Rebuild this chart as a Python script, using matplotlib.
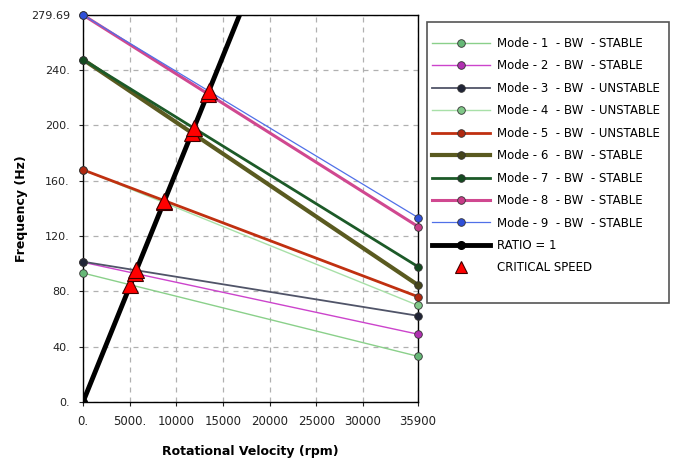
import matplotlib
matplotlib.use('Agg')
import matplotlib.pyplot as plt
from matplotlib.patches import Rectangle

# rotational velocity end points (rpm)
rpm = [0, 35900]

# frequency of each mode at 0 and 35900 rpm (Hz)
mode_1 = [93.2, 33.0]
mode_2 = [101.0, 49.0]
mode_3 = [101.4, 62.3]
mode_4 = [167.8, 69.8]
mode_5 = [167.8, 76.1]
mode_6 = [247.5, 84.5]
mode_7 = [247.5, 97.8]
mode_8 = [279.69, 126.8]
mode_9 = [279.69, 133.3]
ratio_1 = [0, 598.3]

labels = ['Mode - 1  - BW  - STABLE', 'Mode - 2  - BW  - STABLE',
          'Mode - 3  - BW  - UNSTABLE', 'Mode - 4  - BW  - UNSTABLE',
          'Mode - 5  - BW  - UNSTABLE', 'Mode - 6  - BW  - STABLE',
          'Mode - 7  - BW  - STABLE', 'Mode - 8  - BW  - STABLE',
          'Mode - 9  - BW  - STABLE']

# critical speeds (rpm, Hz)
crit_rpm = [5080, 5580, 5710, 8650, 8730, 11670, 11880, 13370, 13480]
crit_freq = [84.7, 92.9, 95.2, 144.2, 145.5, 194.5, 198.0, 222.8, 224.7]

x_ticks = [0, 5000, 10000, 15000, 20000, 25000, 30000, 35900]
x_tick_labels = ['0.', '5000.', '10000', '15000', '20000', '25000', '30000', '35900']
y_ticks = [0, 40, 80, 120, 160, 200, 240, 279.69]
y_tick_labels = ['0.', '40.', '80.', '120.', '160.', '200.', '240.', '279.69']

modes = [mode_1, mode_2, mode_3, mode_4, mode_5, mode_6, mode_7, mode_8, mode_9]
line_colors = ['#8ad08a', '#cc44cc', '#505468', '#a8e0a8', '#c03010',
               '#5a5a20', '#1c5a28', '#d04890', '#5070e8']
marker_colors = ['#66b877', '#b030b0', '#202436', '#80c888', '#b02810',
                 '#44441a', '#144a20', '#c83c88', '#3050d8']
widths = [1.0, 1.0, 1.3, 1.0, 2.0, 3.0, 2.0, 2.2, 0.9]

plt.rcParams['font.family'] = 'DejaVu Sans'
fig = plt.figure(figsize=(6.76, 4.61), dpi=100)
ax = fig.add_axes([83 / 676, 1 - 402 / 461, 335 / 676, 387 / 461])

handles = []
for values, lc, mc, lw, lab in zip(modes, line_colors, marker_colors, widths, labels):
    h, = ax.plot(rpm, values, color=lc, lw=lw, marker='o', markersize=5.5,
                 markerfacecolor=mc, markeredgecolor='#333333', markeredgewidth=0.6,
                 label=lab, clip_on=False, zorder=3)
    handles.append(h)

h, = ax.plot(rpm, ratio_1, color='black', lw=3.5, marker='o', markersize=5.5,
             markerfacecolor='black', markeredgecolor='black', label='RATIO = 1', zorder=4)
handles.append(h)

h, = ax.plot(crit_rpm, crit_freq, linestyle='none', marker='^', markersize=12,
             markerfacecolor='#ff0000', markeredgecolor='#400000', markeredgewidth=0.8,
             label='CRITICAL SPEED', zorder=5)
handles.append(h)

ax.set_xlim(0, 35900)
ax.set_ylim(0, 279.69)
ax.set_xticks(x_ticks)
ax.set_xticklabels(x_tick_labels)
ax.set_yticks(y_ticks)
ax.set_yticklabels(y_tick_labels)
ax.tick_params(labelsize=8.5, length=3, colors='#222222', pad=6)
ax.tick_params(axis='y', labelsize=8, pad=6.5)
ax.grid(True, linestyle=(0, (4, 4)), color='#b0b0b0', lw=0.9)
for s in ax.spines.values():
    s.set_color('black')
    s.set_linewidth(1.0)

ax.set_xlabel('Rotational Velocity (rpm)', fontsize=9, fontweight='bold')
ax.set_ylabel('Frequency (Hz)', fontsize=9, fontweight='bold')
ax.xaxis.set_label_coords((250 - 83) / 335, -(445 - 402) / 387)
ax.yaxis.set_label_coords((28 - 83) / 335, 0.5)

fig.patches.append(Rectangle((427 / 676, 1 - 303 / 461), 242 / 676, 281 / 461,
                             transform=fig.transFigure, fill=False,
                             edgecolor='#555555', lw=1.2))
leg = fig.legend(handles=handles, loc='upper left', bbox_to_anchor=(432 / 676, 1 - 37 / 461),
                 frameon=False, fontsize=8.5, handlelength=4.9, labelspacing=0.8,
                 handletextpad=0.6, borderaxespad=0, borderpad=0)
leg.legend_handles[-1].set_markersize(8)

fig.savefig('out.png', dpi=100)
